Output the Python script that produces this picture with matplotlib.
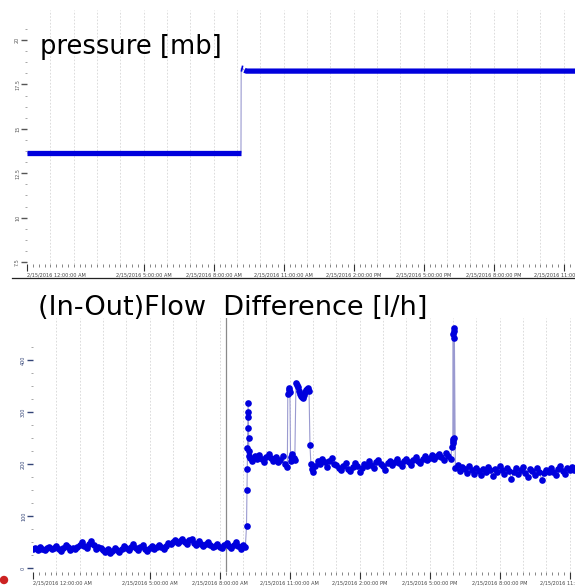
import matplotlib
matplotlib.use('Agg')
import matplotlib.pyplot as plt
import numpy as np
from matplotlib.patches import Ellipse
from matplotlib.lines import Line2D


#---------------------------------data -------------------------------------------------------------------------------

# hours after 2/15/2016 12:00:00 AM
tick_hours = [0, 5, 8, 11, 14, 17, 20, 23]
tick_labels = ['2/15/2016 12:00:00 AM', '2/15/2016 5:00:00 AM', '2/15/2016 8:00:00 AM',
               '2/15/2016 11:00:00 AM', '2/15/2016 2:00:00 PM', '2/15/2016 5:00:00 PM',
               '2/15/2016 8:00:00 PM', '2/15/2016 11:00:00 PM']

pressure_hours = [0.0, 9.17, 9.18, 9.25, 9.32, 9.40, 24.0]
pressure_values = [13.64, 13.64, 18.40, 18.38, 18.30, 18.25, 18.25]
pressure_ticks = [7.5, 10, 12.5, 15, 17.5, 20]

cursor_hour = 8.27

baseline_values = [
    36, 38, 35, 40, 37, 34, 39, 41, 36, 38,
    42, 37, 33, 38, 44, 40, 35, 39, 36, 41,
    45, 50, 43, 38, 47, 52, 44, 36, 40, 38,
    34, 30, 36, 28, 33, 38, 35, 31, 37, 42,
    39, 35, 41, 46, 38, 34, 40, 44, 37, 33,
    38, 42, 36, 40, 45, 41, 37, 43, 48, 46,
    50, 54, 48, 52, 56, 50, 47, 53, 55, 49,
    45, 51, 47, 42, 46, 50, 44, 40, 43, 47,
    41, 38, 44, 48, 43, 39, 45, 50, 42, 37,
    44, 40,
]

jump_hours = [9.15, 9.17, 9.18, 9.19, 9.20, 9.21, 9.22, 9.23, 9.24, 9.25, 9.27]
jump_values = [80, 150, 190, 230, 270, 300, 318, 290, 250, 225, 215]

after_jump_values = [212, 205, 215, 209, 218, 210, 204, 214, 220, 211, 206, 213, 203, 208, 216, 200, 195]

plateau_hours = [10.92, 10.95, 10.98, 11.01, 11.04, 11.07, 11.12, 11.17, 11.22,
                 11.27, 11.31, 11.35, 11.39, 11.43, 11.47, 11.51, 11.55, 11.59, 11.63,
                 11.67, 11.71, 11.75, 11.79, 11.83, 11.87, 11.91, 11.95]
plateau_values = [335, 346, 343, 338, 205, 214, 220, 212, 208,
                  356, 352, 348, 341, 334, 330, 328, 327, 330, 333,
                  338, 342, 345, 346, 340, 236, 200, 190]

midday_values = [
    185, 196, 205, 200, 210, 203, 195, 206, 212, 200,
    198, 192, 188, 196, 201, 190, 186, 195, 202, 197,
    184, 193, 200, 196, 205, 199, 192, 203, 207, 200,
    196, 188, 201, 206, 198, 203, 209, 201, 197, 205,
    210, 204, 199, 207, 213, 206, 201, 209, 215, 208,
    212, 218, 209, 215, 220, 213, 207, 222, 216, 210,
]

spike_hours = [17.95, 17.98, 18.0, 18.01, 18.02, 18.03, 18.04, 18.05, 18.06]
spike_values = [232, 240, 244, 450, 248, 462, 455, 250, 442]

evening_values = [
    192, 198, 186, 194, 190, 183, 196, 189, 180, 193,
    187, 178, 191, 185, 195, 188, 176, 190, 184, 197,
    189, 181, 193, 186, 172, 184, 192, 180, 188, 194,
    183, 175, 190, 186, 179, 192, 185, 170, 182, 189,
    185, 192, 184, 178, 190, 196, 187, 181, 193, 189,
    195, 188, 192, 199, 190, 186, 194, 198, 191, 188,
]
flow_ticks = [0, 100, 200, 300, 400]


#---------------------------------helper functions -------------------------------------------------------------------------------

def _sampled_hours(start: float, count: int) -> list:
    '''regular 6 minute sampling of the historian'''
    return list(np.round(start + 0.1 * np.arange(count), 2))

def _style_time_axis(ax):
    ax.set_xticks(tick_hours)
    ax.set_xticklabels(tick_labels, fontsize=3.6, color='#444444')
    ax.get_xticklabels()[0].set_ha('left')
    ax.set_xticks(np.arange(0, 24.01, 0.25), minor=True)
    ax.set_xlim(0, 24)
    ax.tick_params(axis='x', which='major', length=5, width=0.8, pad=0.8, color='#333333')
    ax.tick_params(axis='x', which='minor', length=2.5, width=0.5, color='#555555')
    for hour in range(1, 24):
        ax.axvline(hour, color='#d6d6d6', lw=0.6, ls=(0, (2, 2)), zorder=0)
    for spine in ax.spines.values():
        spine.set_visible(False)

def _style_value_axis(ax, ticks, minor_step, color, limits):
    ax.set_yticks(ticks)
    ax.set_yticklabels([str(t) for t in ticks], rotation=90, fontsize=3.5, color=color, va='center')
    ax.set_yticks(np.arange(ticks[0] - 2 * minor_step, ticks[-1] + 2 * minor_step, minor_step), minor=True)
    ax.set_ylim(*limits)
    ax.tick_params(axis='y', which='major', length=4, width=1.0, pad=1, color=color)
    ax.tick_params(axis='y', which='minor', length=1.5, width=0.6, color='#999999')


#---------------------------------main -------------------------------------------------------------------------------

fig = plt.figure(figsize=(5.75, 5.86), dpi=100)

# pressure panel
ax_p = fig.add_axes([27 / 575, 1 - 264 / 586, 560 / 575, 254 / 586])
ax_p.plot(pressure_hours, pressure_values, color='#9a9ad0', lw=0.8, zorder=2)
ax_p.plot(pressure_hours[:2], pressure_values[:2], color='#0000dd', lw=3.8, solid_capstyle='butt', zorder=3)
ax_p.plot(pressure_hours[2:4], pressure_values[2:4], color='#0000dd', lw=4.4, solid_capstyle='butt', zorder=3)
ax_p.plot(pressure_hours[4:], pressure_values[4:], color='#0000dd', lw=3.8, solid_capstyle='butt', zorder=3)
_style_time_axis(ax_p)
_style_value_axis(ax_p, pressure_ticks, 0.625, '#555555', (7.39, 21.69))

# flow difference panel
flow_hours = (_sampled_hours(0.0, len(baseline_values)) + jump_hours
              + _sampled_hours(9.3, len(after_jump_values)) + plateau_hours
              + _sampled_hours(12.0, len(midday_values)) + spike_hours
              + _sampled_hours(18.1, len(evening_values)))
flow_values = (baseline_values + jump_values + after_jump_values + plateau_values
               + midday_values + spike_values + evening_values)

ax_f = fig.add_axes([33 / 575, 1 - 572 / 586, 560 / 575, 254 / 586])
ax_f.axvline(cursor_hour, color='#8a8a8a', lw=0.9, zorder=1)
ax_f.plot(flow_hours, flow_values, color='#9a9ad0', lw=0.8, zorder=2)
ax_f.plot(flow_hours, flow_values, ls='none', marker='o', ms=4.8, mew=0,
          color='#0000dd', zorder=3)
_style_time_axis(ax_f)
_style_value_axis(ax_f, flow_ticks, 25, '#334477', (-7.7, 480.8))

# panel captions
fig.text(40 / 575, 1 - 47 / 586, 'pressure [mb]', fontsize=18.5, va='center', ha='left')
fig.text(38 / 575, 1 - 308 / 586, '(In-Out)Flow  Difference [l/h]', fontsize=19.5, va='center', ha='left')

# rule under the top time axis and the status dot
fig.add_artist(Line2D([12 / 575, 1], [1 - 278 / 586] * 2, color='#222222', lw=0.9,
                      transform=fig.transFigure))
fig.add_artist(Ellipse((4 / 575, 1 - 580 / 586), 7 / 575, 7 / 586, color='#cc2222',
                       transform=fig.transFigure))

fig.savefig('out.png', dpi=100)
